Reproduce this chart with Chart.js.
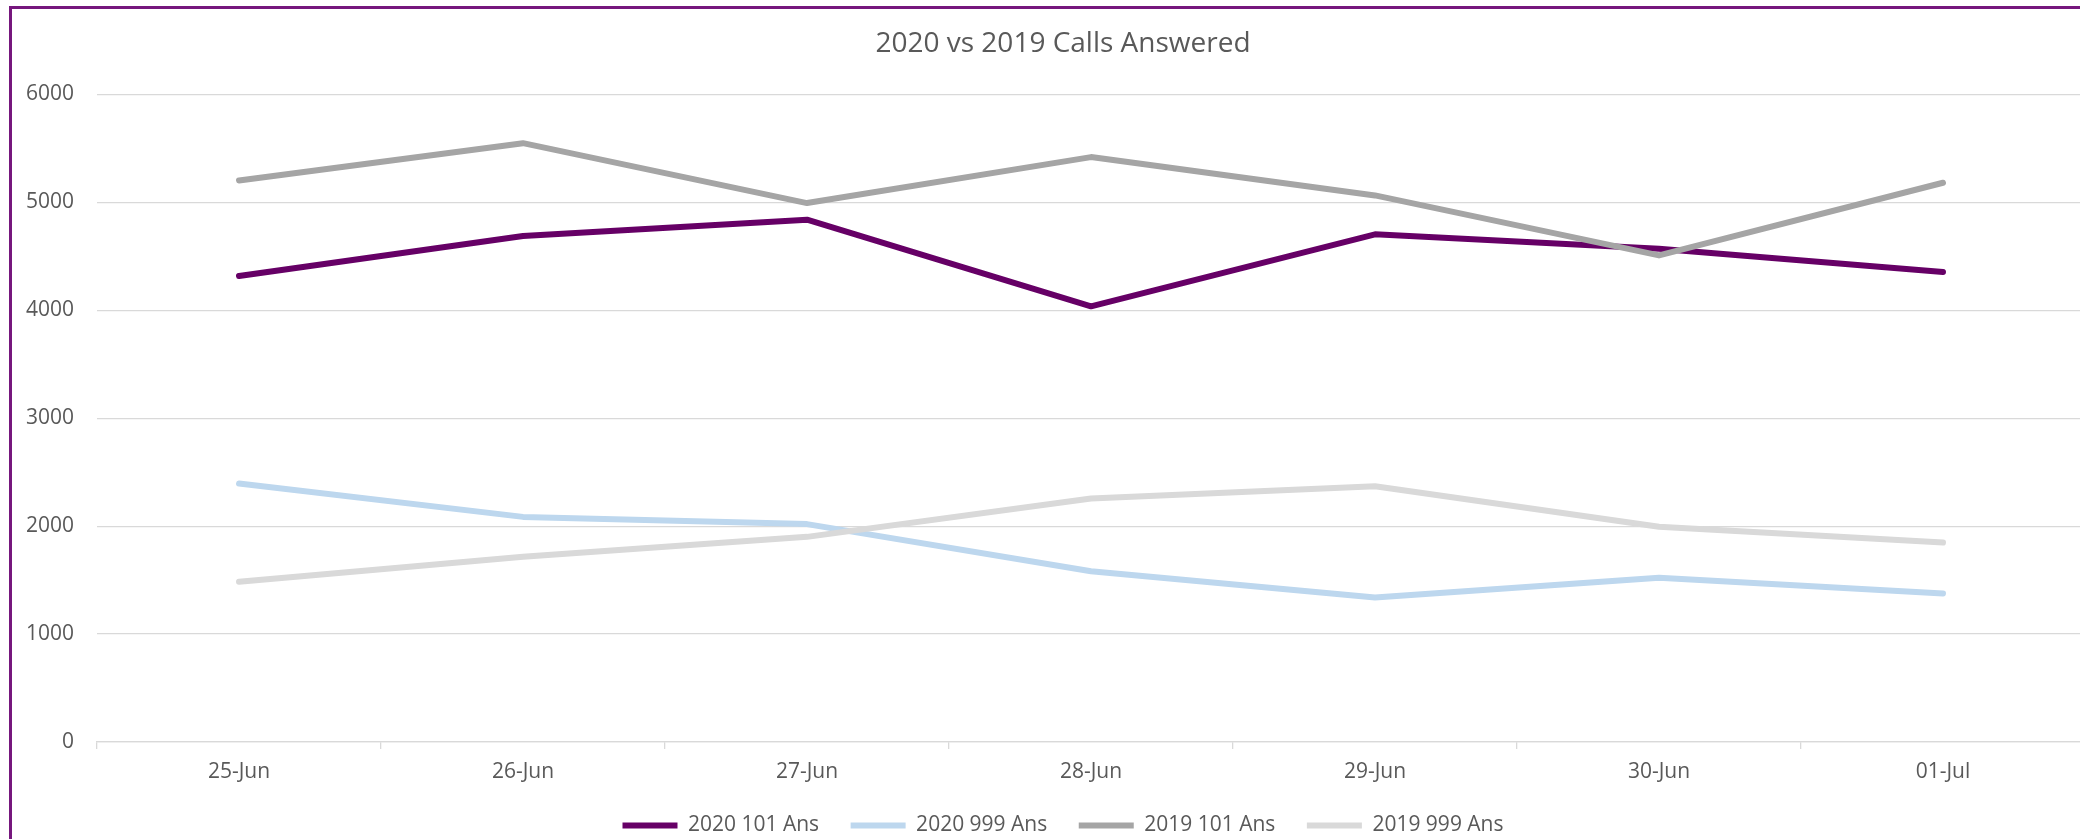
<!DOCTYPE html>
<html>
<head>
<meta charset="utf-8">
<script src="https://cdn.jsdelivr.net/npm/chart.js@4.4.0/dist/chart.umd.min.js"></script>
<style>
html,body{margin:0;padding:0;background:#fff;overflow:hidden;width:2080px;height:839px;}
#wrap{position:absolute;left:0;top:0;width:2080px;height:839px;overflow:hidden;background:#fff;}
#c{position:absolute;left:0;top:0;}
#frame{position:absolute;left:9px;top:6px;width:2200px;height:900px;border:3px solid #76177D;pointer-events:none;}
</style>
</head>
<body>
<div id="wrap">
  <canvas id="c" width="2126" height="846" style="width:2126px;height:846px"></canvas>
  <div id="frame"></div>
</div>
<script>
const chartTitle = "2020 vs 2019 Calls Answered";
const categories = ["25-Jun", "26-Jun", "27-Jun", "28-Jun", "29-Jun", "30-Jun", "01-Jul"];
const seriesNames = ["2020 101 Ans", "2020 999 Ans", "2019 101 Ans", "2019 999 Ans"];
const ans101_2020 = [4318, 4688, 4840, 4037, 4704, 4571, 4355];
const ans999_2020 = [2395, 2086, 2019, 1583, 1340, 1522, 1377];
const ans101_2019 = [5204, 5549, 4994, 5420, 5065, 4509, 5182];
const ans999_2019 = [1484, 1716, 1901, 2256, 2370, 1994, 1849];
const seriesColors = ["#660066", "#BDD7EE", "#A5A5A5", "#D9D9D9"];
const yTicks = [0, 1000, 2000, 3000, 4000, 5000, 6000];

Chart.defaults.font.family = "'Open Sans', sans-serif";
Chart.defaults.color = "#595959";

const seriesValues = [ans101_2020, ans999_2020, ans101_2019, ans999_2019];
const datasets = seriesValues.map((vals, i) => ({
  label: seriesNames[i],
  data: vals,
  yAxisID: 'y',
  borderColor: seriesColors[i],
  backgroundColor: seriesColors[i],
  borderWidth: 6,
  borderCapStyle: 'round',
  borderJoinStyle: 'round',
  pointRadius: 0,
  pointHoverRadius: 0,
  tension: 0,
  fill: false,
  order: seriesValues.length - i
}));

new Chart(document.getElementById('c'), {
  type: 'line',
  data: { labels: categories, datasets: datasets },
  options: {
    responsive: false,
    animation: false,
    devicePixelRatio: 1,
    events: [],
    layout: { padding: { left: 0, right: 0, top: 0, bottom: 0 } },
    plugins: {
      tooltip: { enabled: false },
      title: {
        display: true,
        text: chartTitle,
        color: '#595959',
        font: { size: 28, weight: 'normal', lineHeight: 1.2 },
        padding: { top: 27.5, bottom: 33.4 }
      },
      legend: {
        display: true,
        position: 'bottom',
        labels: {
          usePointStyle: true,
          pointStyle: 'line',
          pointStyleWidth: 55,
          boxHeight: 6,
          padding: 31.5,
          color: '#595959',
          font: { size: 21 },
          sort: (a, b) => a.datasetIndex - b.datasetIndex
        }
      }
    },
    scales: {
      x: {
        offset: true,
        grid: {
          display: true,
          offset: true,
          drawOnChartArea: false,
          drawTicks: true,
          tickLength: 7,
          color: '#D9D9D9',
          lineWidth: 1.3
        },
        border: { display: true, color: '#D9D9D9', width: 1.3 },
        ticks: { padding: 10.4, color: '#595959', font: { size: 21 }, maxRotation: 0, autoSkip: false },
        afterFit: (scale) => { scale.height = 41.5; }
      },
      y: {
        position: 'left',
        min: 0,
        max: 6000,
        afterBuildTicks: (scale) => { scale.ticks = yTicks.map(v => ({ value: v })); },
        grid: { color: '#D9D9D9', lineWidth: 1.3, drawTicks: false },
        border: { display: false },
        ticks: { padding: 23, color: '#595959', font: { size: 21 }, callback: (v) => String(v) },
        afterFit: (scale) => { scale.width = 97; }
      },
      yRight: {
        position: 'right',
        display: true,
        grid: { display: false, drawOnChartArea: false, drawTicks: false },
        border: { display: false },
        ticks: { display: false },
        afterFit: (scale) => { scale.width = 41; }
      }
    }
  }
});
</script>
</body>
</html>
